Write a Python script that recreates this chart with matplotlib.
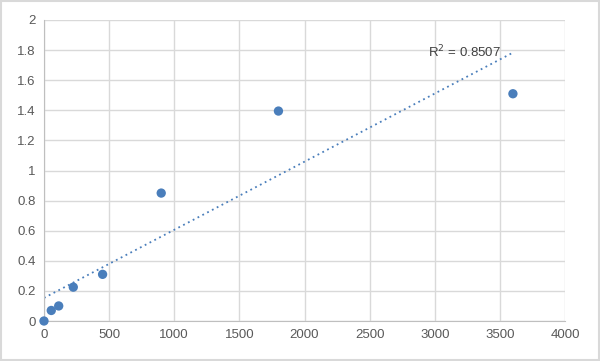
import matplotlib
matplotlib.use("Agg")
import matplotlib.pyplot as plt
import numpy as np

x_vals = [0, 56, 113, 225, 450, 900, 1800, 3600]
y_vals = [0.0, 0.07, 0.10, 0.225, 0.31, 0.85, 1.395, 1.51]
x_ticks = [0, 500, 1000, 1500, 2000, 2500, 3000, 3500, 4000]
y_ticks = [0, 0.2, 0.4, 0.6, 0.8, 1, 1.2, 1.4, 1.6, 1.8, 2]
r2_label = "R$^2$ = 0.8507"

fig = plt.figure(figsize=(6, 3.61), dpi=100)
ax = fig.add_axes([0.0733, 0.1108, 0.8684, 0.8338])

blue = "#4A7EBB"
grid = "#D9D9D9"
txt = "#595959"

ax.scatter(x_vals, y_vals, s=45, color=blue, zorder=3, edgecolors="none", clip_on=False)
slope, intercept = np.polyfit(x_vals, y_vals, 1)
xt = np.array([0, max(x_vals)])
ax.plot(xt, slope * xt + intercept, linestyle=(0, (1, 2)), color=blue, lw=1.3, zorder=2)

ax.set_xlim(0, 4000)
ax.set_ylim(0, 2)
ax.set_xticks(x_ticks)
ax.set_yticks(y_ticks)
ax.set_xticklabels([str(t) for t in x_ticks])
ax.set_yticklabels([f"{t:g}" for t in y_ticks])
ax.grid(True, color=grid, lw=1)
ax.set_axisbelow(True)
for s in ["top", "right"]:
    ax.spines[s].set_visible(False)
for s in ["left", "bottom"]:
    ax.spines[s].set_color("#BFBFBF")
ax.tick_params(length=0, colors=txt, labelsize=9.5, pad=6)
for lab in ax.get_xticklabels() + ax.get_yticklabels():
    lab.set_fontfamily("Liberation Sans")

ax.text(2950, 1.79, r2_label, fontsize=9.5, color="#404040", family="Liberation Sans", va="center", ha="left")

border = plt.Rectangle((0.002, 0.003), 0.996, 0.994, transform=fig.transFigure,
                       fill=False, edgecolor="#D9D9D9", lw=1.5)
fig.patches.append(border)

fig.savefig("out.png", dpi=100, facecolor="white")
